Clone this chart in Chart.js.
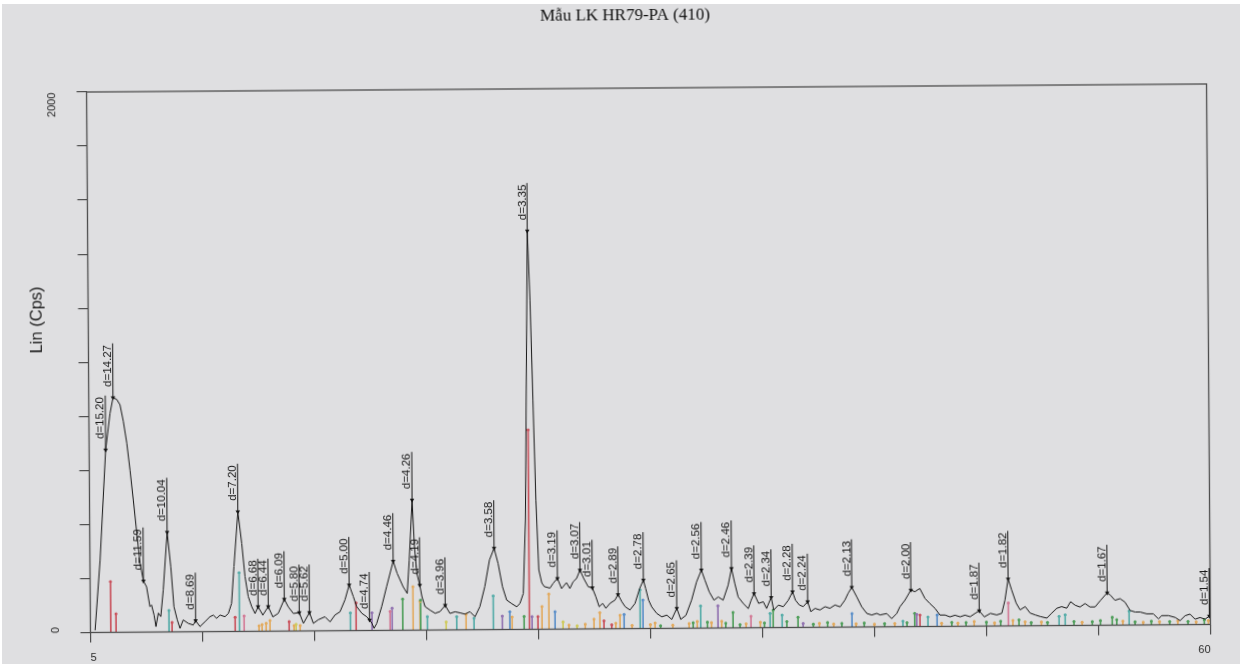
<!DOCTYPE html>
<html><head><meta charset="utf-8">
<script src="https://cdn.jsdelivr.net/npm/chart.js@4.4.1/dist/chart.umd.min.js"></script>
<style>
html,body{margin:0;padding:0;background:#fff;width:1240px;height:664px;overflow:hidden}
#bg{position:absolute;left:2px;top:4px;width:1238px;height:660px;background:#dfdfe1}
#wrap{position:absolute;left:0;top:0;width:1240px;height:664px;transform:rotate(-0.41deg);transform-origin:648.5px 358px}
</style></head><body><div id="bg"></div><div id="wrap"><canvas id="c"></canvas></div>
<script>
// ---- data (2-theta in degrees, intensity in Cps) ----
const chartTitle = 'Mẫu LK HR79-PA (410)';
const yTitle = 'Lin (Cps)';
const xTickLabels = [5, 60];
const yTickLabels = [0, 2000];

const twoTheta = [5.23,5.50,5.81,6.04,6.19,6.37,6.53,6.69,6.85,7.00,7.15,7.31,7.46,7.62,7.77,7.93,8.01,8.13,8.22,8.34,8.46,8.59,8.80,8.97,9.11,9.27,9.40,9.56,9.81,10.05,10.17,10.38,10.63,10.87,11.04,11.20,11.37,11.61,11.78,11.94,12.07,12.28,12.46,12.61,12.76,12.93,13.09,13.24,13.47,13.74,13.96,14.23,14.53,14.72,14.97,15.26,15.46,15.76,15.95,16.19,16.52,16.77,17.01,17.26,17.51,17.72,17.92,18.08,18.33,18.57,18.71,18.82,18.93,19.06,19.31,19.56,19.89,20.08,20.37,20.57,20.68,20.84,20.94,21.05,21.19,21.29,21.44,21.68,21.93,22.17,22.43,22.66,22.91,23.15,23.40,23.64,23.89,24.13,24.38,24.62,24.85,25.04,25.25,25.45,25.69,25.94,26.10,26.27,26.40,26.59,26.70,26.81,26.92,27.04,27.18,27.30,27.58,27.74,27.95,28.15,28.39,28.56,28.72,28.89,29.06,29.24,29.46,29.66,29.83,29.99,30.16,30.32,30.52,30.77,30.92,31.11,31.27,31.50,31.75,31.99,32.17,32.28,32.42,32.57,32.81,33.06,33.31,33.55,33.80,33.99,34.25,34.53,34.78,35.02,35.19,35.40,35.63,35.84,36.08,36.33,36.50,36.66,36.82,37.07,37.31,37.45,37.60,37.82,38.05,38.21,38.44,38.56,38.79,39.03,39.28,39.49,39.63,39.82,40.01,40.23,40.38,40.59,40.83,41.08,41.32,41.57,41.82,42.06,42.22,42.40,42.64,42.88,43.13,43.37,43.62,43.78,44.11,44.35,44.60,44.76,45.01,45.30,45.50,45.74,45.99,46.23,46.48,46.72,46.97,47.21,47.46,47.71,47.95,48.20,48.44,48.65,48.90,49.20,49.51,49.76,49.92,50.08,50.25,50.47,50.66,50.91,51.15,51.40,51.64,51.97,52.21,52.46,52.70,52.95,53.14,53.36,53.60,53.85,54.09,54.34,54.62,54.94,55.10,55.32,55.57,55.81,56.06,56.31,56.55,56.88,57.20,57.45,57.61,57.94,58.27,58.51,58.76,59.00,59.25,59.49,59.74,59.95];
const intensity = [8,268,675,811,868,862,842,780,700,600,490,367,256,189,168,94,100,63,20,70,57,155,369,240,93,44,13,44,31,25,41,19,37,55,61,49,61,55,67,104,240,443,326,203,129,91,66,91,60,91,53,66,118,90,65,68,28,68,28,41,52,33,58,70,114,169,126,89,64,51,39,27,8,26,88,162,256,211,161,136,260,482,309,210,166,124,87,74,62,68,91,61,67,63,58,67,48,85,159,258,301,245,158,109,96,84,96,133,405,1474,1219,849,478,220,172,158,152,170,188,150,172,150,175,187,218,187,156,152,119,82,94,76,94,106,127,99,81,69,93,149,179,148,105,80,56,43,49,33,74,33,48,104,171,215,178,134,103,115,103,158,220,164,114,90,71,101,127,90,96,71,112,65,83,77,101,132,101,83,77,95,58,70,64,76,70,82,75,100,125,147,112,75,50,44,50,44,49,30,49,74,98,135,129,141,104,85,67,42,42,35,41,35,41,35,47,57,34,47,41,47,96,174,133,84,59,71,47,40,34,28,46,64,70,64,88,75,68,81,68,68,93,120,111,92,98,85,54,48,48,41,41,22,34,34,27,15,33,39,20,26,20,31];

const peakTheta = [5.81,6.19,7.62,8.80,10.17,12.28,13.24,13.74,14.53,15.26,15.76,17.72,18.71,19.89,20.84,21.19,22.43,24.85,26.59,27.95,29.06,29.66,30.92,32.17,33.80,35.02,36.50,37.60,38.44,39.49,40.23,42.40,45.30,48.65,50.08,54.94,59.95];
const peakIntensity = [675,868,189,369,41,443,91,91,118,68,68,169,39,256,482,166,91,301,1474,188,218,152,127,179,74,215,220,127,112,132,95,147,135,57,174,120,31];
const peakD = ['15.20','14.27','11.59','10.04','8.69','7.20','6.68','6.44','6.09','5.80','5.62','5.00','4.74','4.46','4.26','4.19','3.96','3.58','3.35','3.19','3.07','3.01','2.89','2.78','2.65','2.56','2.46','2.39','2.34','2.28','2.24','2.13','2.00','1.87','1.82','1.67','1.54'];

// reference pattern sticks: position, relative height, phase id
const stickTheta = [6.00,6.26,8.86,9.01,12.11,12.32,12.55,13.28,13.43,13.63,13.82,14.76,15.00,15.10,15.30,17.77,18.05,18.83,19.72,19.82,20.34,20.85,21.19,21.22,21.55,22.47,22.99,23.45,23.84,24.79,25.23,25.60,25.71,26.30,26.56,26.69,26.98,27.18,27.52,27.82,28.21,28.50,28.90,29.30,29.73,30.02,30.22,30.60,30.80,31.01,31.21,31.60,32.00,32.14,32.50,32.73,33.00,33.60,34.40,34.60,34.80,34.97,35.30,35.50,35.82,36.00,36.20,36.56,36.90,37.20,37.44,37.90,38.10,38.38,38.53,38.97,39.20,39.75,40.00,40.50,40.80,41.20,41.50,41.90,42.40,42.60,43.00,43.50,44.00,44.50,44.90,45.10,45.48,45.58,45.74,46.13,46.58,46.80,47.30,47.60,48.00,48.40,49.00,49.40,49.70,50.08,50.30,50.60,50.90,51.20,51.70,52.00,52.57,52.87,53.30,53.70,54.20,54.60,55.18,55.40,55.70,56.01,56.30,56.70,57.10,57.50,58.00,58.40,58.90,59.30,59.70,59.90];
const stickIntensity = [188,68,80,35,53,217,57,20,25,30,40,35,20,25,20,66,103,66,70,82,116,161,106,111,50,30,49,57,43,125,50,66,46,48,738,47,47,84,130,65,27,15,12,18,36,60,30,15,20,50,53,12,143,105,15,20,10,12,18,20,25,82,22,20,82,25,18,57,12,15,43,20,18,53,65,46,22,38,15,12,15,18,12,14,50,12,15,10,12,12,20,15,49,45,43,35,43,12,15,12,14,18,15,12,18,85,20,22,15,12,14,12,34,40,15,12,14,18,30,20,15,52,12,10,14,12,12,14,12,10,18,15];
const stickPhase = [1,1,2,1,1,2,3,4,4,4,4,1,4,5,4,2,1,7,3,7,6,4,4,6,2,5,2,4,2,2,7,8,4,6,1,7,1,4,4,8,5,4,5,4,4,4,1,1,4,4,8,4,2,8,4,4,6,4,4,6,4,2,6,4,7,4,6,6,6,4,3,4,6,2,6,2,6,6,7,6,4,6,4,6,8,4,6,4,6,4,2,6,6,7,1,2,8,4,6,4,6,4,6,4,6,3,4,6,4,6,4,6,2,2,6,4,6,6,6,6,4,2,6,4,6,4,6,4,6,4,6,4];

// ---- styling ----
const PHASE_COLORS = {1:'#c9525c',2:'#55aca8',3:'#d27a96',4:'#e2aa5e',5:'#cfca5c',6:'#4f9e5a',7:'#9172b0',8:'#5a8ec8'};
const INK = '#161616', FRAME = '#4d4d4d';
const SANS = '"Liberation Sans", Arial, sans-serif';

const curve = twoTheta.map((t,i)=>({x:t,y:intensity[i]}));
const peaks = peakTheta.map((t,i)=>({x:t,y:peakIntensity[i]}));
const sticks = stickTheta.map((t,i)=>({x:t,y:stickIntensity[i]}));
const stickCols = stickPhase.map(p=>PHASE_COLORS[p]);

const annot = {
  id:'annot',
  afterDatasetsDraw(chart){
    const {ctx, chartArea:a, scales:{x,y}} = chart;
    ctx.save();
    ctx.strokeStyle = FRAME; ctx.lineWidth = 1.3;
    ctx.strokeRect(a.left, a.top, a.right-a.left, a.bottom-a.top);
    ctx.font = '11.5px ' + SANS; ctx.fillStyle = INK; ctx.strokeStyle = INK; ctx.lineWidth = 1;
    peakTheta.forEach((t,i)=>{
      const px = x.getPixelForValue(t), py = y.getPixelForValue(peakIntensity[i]);
      const lab = 'd=' + peakD[i];
      const w = ctx.measureText(lab).width;
      ctx.beginPath(); ctx.moveTo(px, py); ctx.lineTo(px, py - 11 - w - 1.5); ctx.stroke();
      ctx.save(); ctx.translate(px - 1.6, py - 11); ctx.rotate(-Math.PI/2);
      ctx.textAlign = 'left'; ctx.textBaseline = 'alphabetic'; ctx.fillText(lab, 0, 0);
      ctx.restore();
    });
    ctx.restore();
  },
  afterDraw(chart){
    const {ctx, chartArea:a, scales:{y}} = chart;
    ctx.save();
    ctx.fillStyle = '#111';
    ctx.font = '17px "Liberation Serif", "Times New Roman", serif';
    ctx.textAlign = 'center'; ctx.textBaseline = 'middle';
    ctx.fillText(chartTitle, 627.4, 15.8);
    // y title
    ctx.font = '16.5px ' + SANS; ctx.fillStyle = '#222';
    ctx.save(); ctx.translate(a.left - 51.2, a.top + 227.6); ctx.rotate(-Math.PI/2);
    ctx.fillText(yTitle, 0, 0); ctx.restore();
    // y tick labels (rotated)
    ctx.font = '11px ' + SANS; ctx.fillStyle = '#2a2a2a';
    yTickLabels.forEach(v=>{
      const py = y.getPixelForValue(v);
      ctx.save();
      if (v === yTickLabels[yTickLabels.length-1]) { ctx.translate(a.left - 34.5, py + 0.5); ctx.rotate(-Math.PI/2); ctx.textAlign='right'; }
      else { ctx.translate(a.left - 34.5, py - 2.5); ctx.rotate(-Math.PI/2); ctx.textAlign='center'; }
      ctx.textBaseline = 'middle'; ctx.fillText(String(v), 0, 0);
      ctx.restore();
    });
    ctx.restore();
  }
};

new Chart(document.getElementById('c'), {
  type:'line',
  data:{datasets:[
    {type:'line', data:peaks, showLine:false, pointStyle:'triangle', rotation:180, pointRadius:2.6, pointBackgroundColor:'#111', pointBorderWidth:0, order:0},
    {type:'line', data:curve, borderColor:INK, borderWidth:1, pointRadius:0, tension:0, fill:false, order:1},
    {type:'line', data:sticks, showLine:false, pointRadius:1.5, pointBackgroundColor:stickCols, pointBorderWidth:0, order:2},
    {type:'bar', data:sticks, backgroundColor:stickCols, borderWidth:0, barThickness:1, order:3}
  ]},
  options:{
    responsive:true, maintainAspectRatio:false, animation:false, devicePixelRatio:1,
    layout:{padding:{top:88, right:31.5, bottom:0, left:0}},
    plugins:{legend:{display:false}, tooltip:{enabled:false}, title:{display:false}},
    scales:{
      x:{type:'linear', min:5, max:60, offset:false,
        afterFit:s=>{s.height = 35.5;},
        grid:{display:true, offset:false, drawOnChartArea:false, drawTicks:true, tickLength:10, color:FRAME, lineWidth:1.2},
        border:{display:false},
        ticks:{stepSize:5.5, autoSkip:false, maxRotation:0, align:'inner', padding:9, color:'#2a2a2a', font:{family:SANS, size:11},
          callback:v=> xTickLabels.find(t=>Math.abs(t-v)<1e-6) !== undefined ? String(Math.round(v)) : ''}
      },
      y:{type:'linear', min:0, max:2000,
        afterFit:s=>{s.width = 88.5;},
        grid:{display:true, drawOnChartArea:false, drawTicks:true, tickLength:10, color:FRAME, lineWidth:1.2},
        border:{display:false},
        ticks:{stepSize:200, autoSkip:false, callback:()=> '', font:{size:11}}
      }
    }
  },
  plugins:[annot]
});
</script></body></html>
